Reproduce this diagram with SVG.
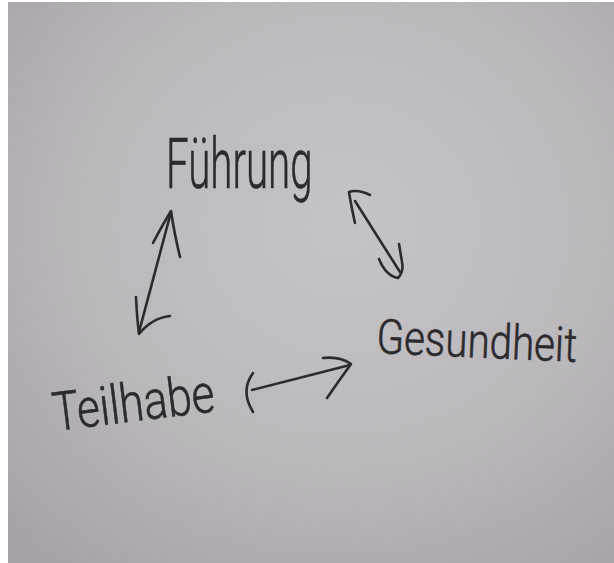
<svg xmlns="http://www.w3.org/2000/svg" width="614" height="563" viewBox="0 0 614 563">
  <defs>
    <radialGradient id="paper" cx="0.55" cy="0.4" r="0.78">
      <stop offset="0" stop-color="#c5c3c7"/>
      <stop offset="0.55" stop-color="#bbb8bc"/>
      <stop offset="1" stop-color="#a5a1a6"/>
    </radialGradient>
  </defs>
  <style>
    .ink { fill: none; stroke: #2b2a2d; stroke-width: 2.6; stroke-linecap: round; stroke-linejoin: round; }
    .word { font-family: Roboto, "Liberation Sans", sans-serif; font-weight: 300; fill: #2b2a2d; stroke: #2b2a2d; stroke-width: 0.6; }
  </style>

  <!-- sheet -->
  <rect x="0" y="0" width="614" height="563" fill="#ffffff"/>
  <rect x="8" y="2" width="606" height="561" fill="url(#paper)"/>

  <!-- words, narrowed horizontally like the pen lettering -->
  <g id="fuehrung" transform="translate(166 188) scale(0.575 1)">
    <text class="word" x="0" y="0" font-size="70">Führung</text>
  </g>
  <g id="teilhabe" transform="translate(55 431) rotate(-7) scale(0.82 1)">
    <text class="word" x="0" y="0" font-size="54">Teilhabe</text>
  </g>
  <g id="gesundheit" transform="translate(376 353) rotate(2.5) scale(0.84 1)">
    <text class="word" x="0" y="0" font-size="48">Gesundheit</text>
  </g>

  <!-- double-headed arrows between the words -->
  <g id="connectors">
    <!-- Führung / Teilhabe -->
    <path class="ink" d="M171,212 L139,332"/>
    <path class="ink" d="M153,243 Q163,224 171,211 Q174,232 180,257"/>
    <path class="ink" d="M136,297 Q137,318 139,334 Q152,318 170,316"/>
    <!-- Führung / Gesundheit -->
    <path class="ink" d="M355,201 L400,272"/>
    <path class="ink" d="M355,223 Q351,205 349,192 Q358,189 370,195"/>
    <path class="ink" d="M379,259 Q386,276 398,278 Q404,272 402,262 L399,244"/>
    <!-- Teilhabe / Gesundheit -->
    <path class="ink" d="M252,390 L350,365"/>
    <path class="ink" d="M253,373 Q240,391 253,412"/>
    <path class="ink" d="M323,358 Q340,356 351,364 Q338,382 327,398"/>
  </g>
</svg>
